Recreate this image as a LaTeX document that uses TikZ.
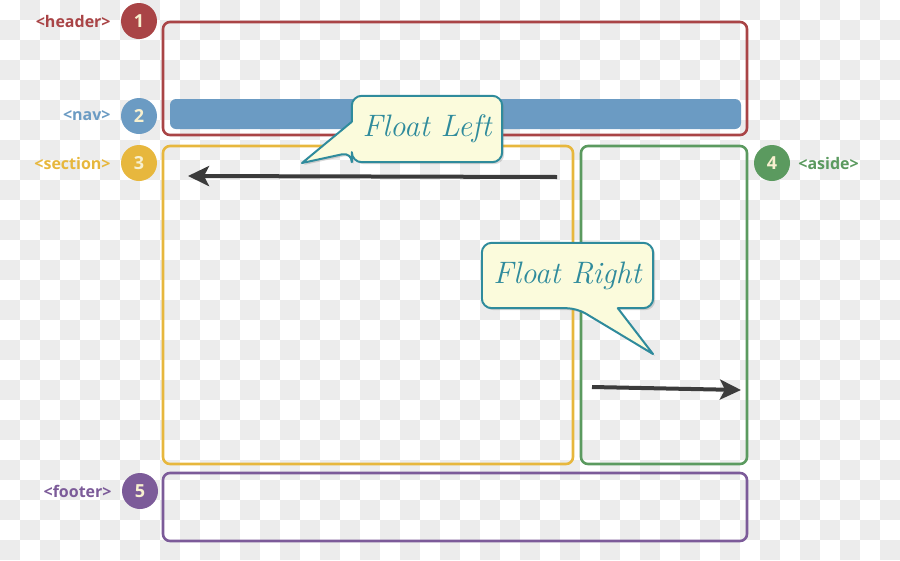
\documentclass[tikz,border=0pt]{standalone}
\usepackage{fontspec}
\setsansfont{Open Sans}
\usetikzlibrary{arrows.meta,positioning,calc,shadows}
\definecolor{hdr}{RGB}{169,68,70}
\definecolor{navc}{RGB}{107,155,195}
\definecolor{sect}{RGB}{231,183,61}
\definecolor{asd}{RGB}{91,154,95}
\definecolor{ftr}{RGB}{124,91,153}
\definecolor{cream}{RGB}{247,240,207}
\definecolor{note}{RGB}{251,251,220}
\definecolor{bubbleline}{RGB}{47,139,156}
\definecolor{ink}{RGB}{59,59,59}
\definecolor{chk}{RGB}{236,236,236}

\begin{document}
\begin{tikzpicture}[x=1pt,y=-1pt,
      every node/.style={font=\sffamily\bfseries},
      pane/.style={draw=#1,line width=2.6pt,rounded corners=7pt,inner sep=0pt},
      num/.style={circle,fill=#1,text=cream,minimum size=36pt,inner sep=0pt,font=\sffamily\bfseries\fontsize{18}{18}\selectfont},
      tag/.style={text=#1,inner sep=0pt,font=\sffamily\bfseries\fontsize{16}{16}\selectfont},
      bubble/.style={draw=bubbleline,fill=note,line width=2pt,line join=round,
        drop shadow={shadow xshift=2pt,shadow yshift=-2pt,opacity=.3}},
      say/.style={text=bubbleline,font=\itshape\fontsize{31}{32}\selectfont},
      push/.style={draw=ink,line width=4pt,-{Stealth[length=21pt,width=20pt,inset=5pt]}}]
      \useasboundingbox (0,0) rectangle (900,560);
      % checkered backdrop
      \foreach \j in {0,...,27}{
        \pgfmathtruncatemacro\s{1-mod(\j,2)}
        \pgfmathtruncatemacro\t{\s+2}
        \foreach \i in {\s,\t,...,44}
          \fill[chk] (20*\i,20*\j) rectangle ++(20,20);
      }
      % page regions
      \node[pane=hdr,minimum width=584pt,minimum height=113pt] (header) at (455,78.5) {};
      \node[fill=navc,rounded corners=6pt,minimum width=571pt,minimum height=30pt,inner sep=0pt] (nav) at (455.5,114) {};
      \node[pane=sect,minimum width=410pt,minimum height=318pt] (section) at (368,305) {};
      \node[pane=asd,minimum width=166pt,minimum height=318pt] (aside) at (664,305) {};
      \node[pane=ftr,minimum width=584pt,minimum height=68pt] (footer) at (455,507) {};
      % numbered markers
      \node[num=hdr] (n1) at (139,21) {1};
      \node[tag=hdr,left=10pt of n1] (lhdr) {<header>};
      \node[num=navc] (n2) at (139,116) {2};
      \node[tag=navc,left=10pt of n2] (lnav) {<nav>};
      \node[num=sect] (n3) at (139,163) {3};
      \node[tag=sect,left=10pt of n3] (lsect) {<section>};
      \node[num=asd] (n4) at (772,163) {4};
      \node[tag=asd,right=8pt of n4] (lasd) {<aside>};
      \node[num=ftr] (n5) at (140,491) {5};
      \node[tag=ftr,left=10pt of n5] (lftr) {<footer>};
      % float arrows
      \coordinate (lstart) at (557,177);
      \coordinate (lend) at (188,176);
      \draw[push] (lstart) -- (lend);
      \coordinate (rstart) at (592,387);
      \coordinate (rend) at (741,390);
      \draw[push] (rstart) -- (rend);
      % callouts
      \node[minimum width=150pt,minimum height=66pt,inner sep=0pt] (flbox) at (427,129) {};
      \coordinate (fltip) at (302,163);
      \draw[bubble] (fltip) -- ($(flbox.north west)+(0,26)$) [rounded corners=10pt] -- (flbox.north west) -- (flbox.north east)
        -- (flbox.south east) -- (flbox.south west) -- ($(flbox.south west)+(0,-10)$) [sharp corners] -- cycle;
      \node[say] (fl) at (flbox) {Float Left};
      \node[minimum width=171pt,minimum height=65pt,inner sep=0pt] (frbox) at (567.5,275.5) {};
      \coordinate (frtip) at (653,354);
      \draw[bubble] (frtip) -- ($(frbox.south west)+(136,0)$) [rounded corners=10pt] -- (frbox.south east) -- (frbox.north east)
        -- (frbox.north west) -- (frbox.south west) -- ($(frbox.south west)+(95,0)$) [sharp corners] -- cycle;
      \node[say] (fr) at (frbox) {Float Right};
    \end{tikzpicture}
\end{document}
